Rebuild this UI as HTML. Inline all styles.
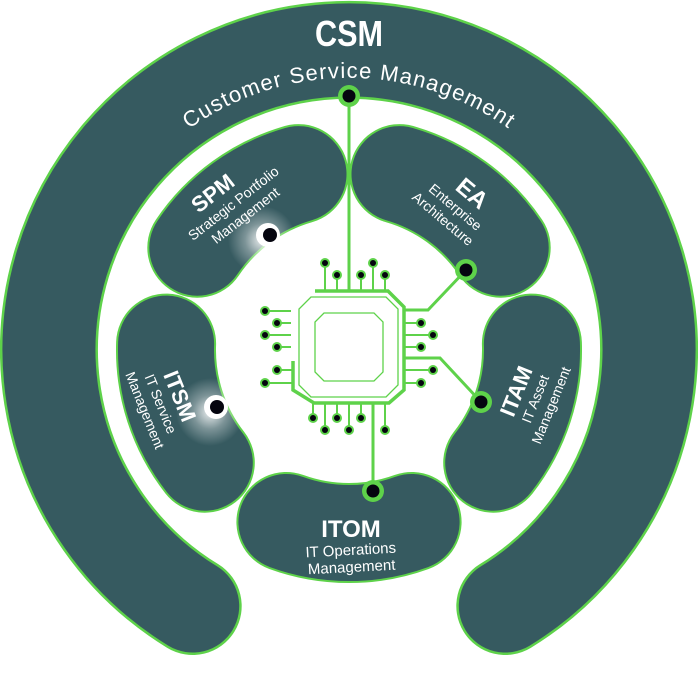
<!DOCTYPE html>
<html><head><meta charset="utf-8"><style>
html,body{margin:0;padding:0;background:#fff;width:698px;height:697px;overflow:hidden}
svg{display:block}
text{font-family:"Liberation Sans",sans-serif;fill:#fff}
</style></head><body>
<svg width="698" height="697" viewBox="0 0 698 697" xmlns="http://www.w3.org/2000/svg">
<defs>
<radialGradient id="glow"><stop offset="0" stop-color="#fff" stop-opacity="0.9"/><stop offset="0.5" stop-color="#fff" stop-opacity="0.35"/><stop offset="1" stop-color="#fff" stop-opacity="0"/></radialGradient>
<path id="csmtext" d="M90.6,256.9 A276,276 0 0 1 607.4,256.9" fill="none"/>
</defs>
<g fill="none" stroke-linecap="round">
<path d="M192.7,606 A300,300 0 1 1 505.3,606" stroke="#5ed24a" stroke-width="98"/>
<path d="M192.7,606 A300,300 0 1 1 505.3,606" stroke="#365a60" stroke-width="93"/>
<g stroke="#5ed24a" stroke-width="100">
<path d="M197.3,247.7 A183,183 0 0 1 298.5,174.1"/>
<path d="M399.5,174.1 A183,183 0 0 1 500.7,247.7"/>
<path d="M531.9,343.6 A183,183 0 0 1 493.2,462.7"/>
<path d="M411.6,522 A183,183 0 0 1 286.4,522"/>
<path d="M204.8,462.7 A183,183 0 0 1 166.1,343.6"/>
</g>
<g stroke="#365a60" stroke-width="96">
<path d="M197.3,247.7 A183,183 0 0 1 298.5,174.1"/>
<path d="M399.5,174.1 A183,183 0 0 1 500.7,247.7"/>
<path d="M531.9,343.6 A183,183 0 0 1 493.2,462.7"/>
<path d="M411.6,522 A183,183 0 0 1 286.4,522"/>
<path d="M204.8,462.7 A183,183 0 0 1 166.1,343.6"/>
</g>
</g>
<circle cx="262" cy="240" r="34" fill="url(#glow)"/>
<circle cx="210" cy="412" r="34" fill="url(#glow)"/>
<g stroke="#5ed24a" fill="none">
<path d="M315,291 H388 L404,307 V390 L389,403 H314 L293,390 V361" stroke-width="3.5"/>
<path d="M311,297 H386 L398,309 V385 L386,397 H311 L299,385 V309 Z" stroke-width="1.3"/>
<path d="M324,313 H374 L383,322 V372 L374,381 H324 L315,372 V322 Z" stroke-width="1.3"/>
<g stroke-width="2">
<path d="M325,291 V263 M337,291 V275 M361,291 V275 M373,291 V263 M385,291 V275"/>
<path d="M291,311 H265 M291,323 H277 M291,335 H265 M291,347 H277 M293,370 H277 M293,383 H265"/>
<path d="M404,323 H421 M404,335 H433 M404,347 H421 M404,370 H433 M404,383 H421"/>
<path d="M313,403 V418 M325,403 V430 M337,403 V418 M349,403 V430 M361,403 V418 M385,403 V430"/>
</g>
<g stroke-width="3">
<path d="M349,291 V96"/>
<path d="M404,310 H428 L466,270"/>
<path d="M404,358 H440 L481,402"/>
<path d="M373,403 V491"/>
</g>
</g>
<g fill="#5ed24a">
<circle cx="325" cy="263" r="5"/><circle cx="337" cy="275" r="5"/><circle cx="361" cy="275" r="5"/><circle cx="373" cy="263" r="5"/><circle cx="385" cy="275" r="5"/>
<circle cx="265" cy="311" r="5"/><circle cx="277" cy="323" r="5"/><circle cx="265" cy="335" r="5"/><circle cx="277" cy="347" r="5"/><circle cx="277" cy="370" r="5"/><circle cx="265" cy="383" r="5"/>
<circle cx="421" cy="323" r="5"/><circle cx="433" cy="335" r="5"/><circle cx="421" cy="347" r="5"/><circle cx="433" cy="370" r="5"/><circle cx="421" cy="383" r="5"/>
<circle cx="313" cy="418" r="5"/><circle cx="325" cy="430" r="5"/><circle cx="337" cy="418" r="5"/><circle cx="349" cy="430" r="5"/><circle cx="361" cy="418" r="5"/><circle cx="385" cy="430" r="5"/>
<circle cx="349" cy="96" r="11"/><circle cx="466" cy="270" r="11"/><circle cx="481" cy="402" r="11"/><circle cx="373" cy="491" r="11"/>
</g>
<circle cx="268" cy="235" r="12" fill="#fff"/>
<circle cx="216" cy="407" r="12" fill="#fff"/>
<g fill="#05050f">
<circle cx="325" cy="263" r="3"/><circle cx="337" cy="275" r="3"/><circle cx="361" cy="275" r="3"/><circle cx="373" cy="263" r="3"/><circle cx="385" cy="275" r="3"/>
<circle cx="265" cy="311" r="3"/><circle cx="277" cy="323" r="3"/><circle cx="265" cy="335" r="3"/><circle cx="277" cy="347" r="3"/><circle cx="277" cy="370" r="3"/><circle cx="265" cy="383" r="3"/>
<circle cx="421" cy="323" r="3"/><circle cx="433" cy="335" r="3"/><circle cx="421" cy="347" r="3"/><circle cx="433" cy="370" r="3"/><circle cx="421" cy="383" r="3"/>
<circle cx="313" cy="418" r="3"/><circle cx="325" cy="430" r="3"/><circle cx="337" cy="418" r="3"/><circle cx="349" cy="430" r="3"/><circle cx="361" cy="418" r="3"/><circle cx="385" cy="430" r="3"/>
<circle cx="349" cy="96" r="6.5"/><circle cx="466" cy="270" r="6.5"/><circle cx="481" cy="402" r="6.5"/><circle cx="373" cy="491" r="6.5"/>
<circle cx="270" cy="235" r="7"/><circle cx="217" cy="407" r="7"/>
</g>
<text x="349" y="46" font-size="36" font-weight="bold" text-anchor="middle" transform="translate(349 0) scale(0.85 1) translate(-349 0)">CSM</text>
<text font-size="22" letter-spacing="1.2"><textPath href="#csmtext" startOffset="50%" text-anchor="middle">Customer Service Management</textPath></text>
<g transform="translate(232 208) rotate(-38)">
<text x="-6" y="-16" font-size="22" font-weight="bold" text-anchor="middle">SPM</text>
<text x="4" y="2" font-size="14" text-anchor="middle">Strategic Portfolio</text>
<text x="6" y="19" font-size="14" text-anchor="middle">Management</text>
</g>
<g transform="translate(452 208) rotate(40)">
<text x="6" y="-16" font-size="24" font-weight="bold" text-anchor="middle">EA</text>
<text x="2" y="2" font-size="14" text-anchor="middle">Enterprise</text>
<text x="0" y="19" font-size="14" text-anchor="middle">Architecture</text>
</g>
<g transform="translate(158 405) rotate(68)">
<text x="0" y="-16" font-size="22" font-weight="bold" text-anchor="middle">ITSM</text>
<text x="0" y="2" font-size="14" text-anchor="middle">IT Service</text>
<text x="0" y="19" font-size="14" text-anchor="middle">Management</text>
</g>
<g transform="translate(538 400) rotate(-68)">
<text x="0" y="-16" font-size="22" font-weight="bold" text-anchor="middle">ITAM</text>
<text x="0" y="2" font-size="14" text-anchor="middle">IT Asset</text>
<text x="0" y="19" font-size="14" text-anchor="middle">Management</text>
</g>
<text x="351" y="537" font-size="24" font-weight="bold" text-anchor="middle">ITOM</text>
<g transform="translate(351 555) rotate(-3)">
<text x="0" y="0" font-size="15" text-anchor="middle">IT Operations</text>
<text x="0" y="17" font-size="15" text-anchor="middle">Management</text>
</g>
</svg>
</body></html>
